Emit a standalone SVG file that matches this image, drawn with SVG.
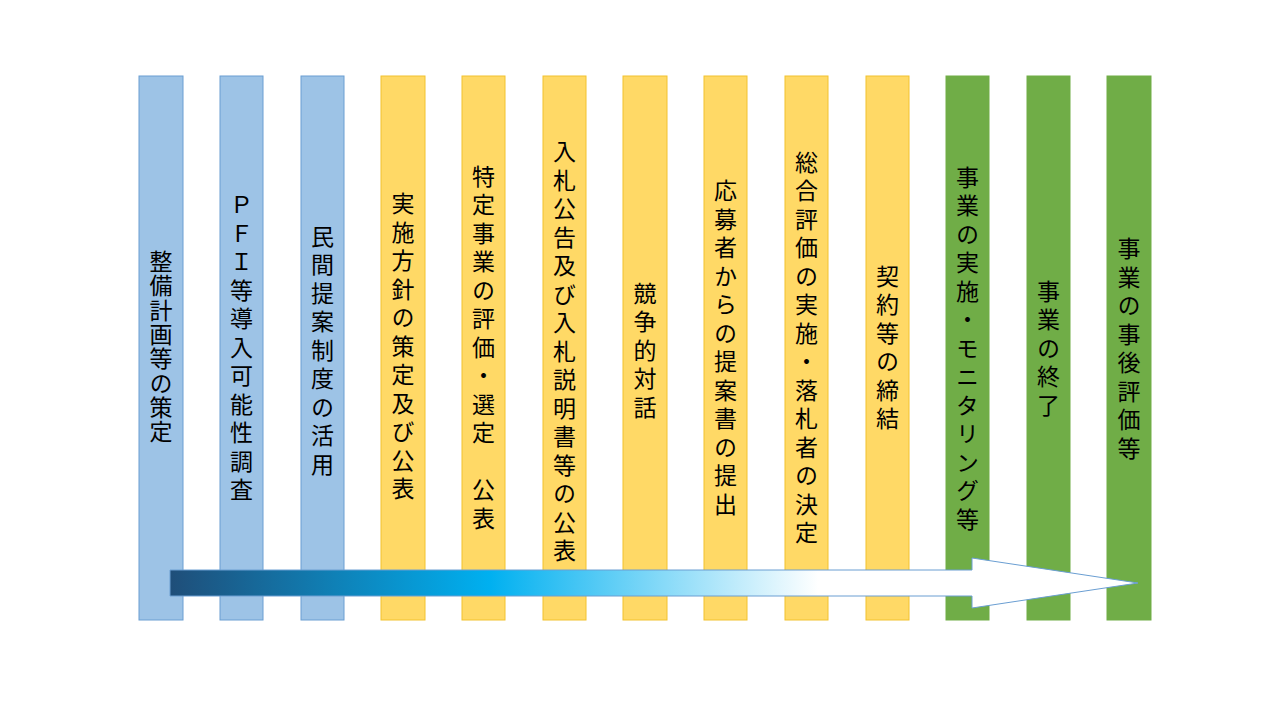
<svg xmlns="http://www.w3.org/2000/svg" width="1280" height="720" viewBox="0 0 1280 720">
<style>
.blue{fill:#9DC3E6;stroke:#6A9ED2;stroke-width:1}
.yellow{fill:#FFD966;stroke:#F2C22E;stroke-width:1}
.green{fill:#70AD47;stroke:#70AD47;stroke-width:1}
.lbl{font-family:"Noto Sans CJK JP","Noto Sans",sans-serif;font-size:23px;fill:#000;writing-mode:vertical-rl;text-anchor:middle;letter-spacing:5.5px}
.tight{letter-spacing:1.3px}
</style>
<defs>
<linearGradient id="arrowGrad" gradientUnits="userSpaceOnUse" x1="170" y1="0" x2="1138" y2="0">
<stop offset="0" stop-color="#1F4E79"/>
<stop offset="0.33" stop-color="#00B0F0"/>
<stop offset="0.67" stop-color="#FFFFFF"/>
<stop offset="1" stop-color="#FFFFFF"/>
</linearGradient>
</defs>
<rect width="1280" height="720" fill="#FFFFFF"/>
<g id="node1"><rect class="blue" x="139" y="76" width="44" height="544"/><text class="lbl tight" x="161" y="347">整備計画等の策定</text></g>
<g id="node2"><rect class="blue" x="220" y="76" width="43" height="544"/><text class="lbl" x="241.5" y="350">ＰＦＩ等導入可能性調査</text></g>
<g id="node3"><rect class="blue" x="301" y="76" width="43" height="544"/><text class="lbl" x="322.5" y="353">民間提案制度の活用</text></g>
<g id="node4"><rect class="yellow" x="381" y="76" width="44" height="544"/><text class="lbl" x="403" y="349">実施方針の策定及び公表</text></g>
<g id="node5"><rect class="yellow" x="462" y="76" width="43" height="544"/><text class="lbl" x="483.5" y="350">特定事業の評価・選定　公表</text></g>
<g id="node6"><rect class="yellow" x="543" y="76" width="43" height="544"/><text class="lbl" x="564.5" y="354">入札公告及び入札説明書等の公表</text></g>
<g id="node7"><rect class="yellow" x="623" y="76" width="44" height="544"/><text class="lbl" x="645" y="353">競争的対話</text></g>
<g id="node8"><rect class="yellow" x="704" y="76" width="43" height="544"/><text class="lbl" x="725.5" y="350">応募者からの提案書の提出</text></g>
<g id="node9"><rect class="yellow" x="785" y="76" width="43" height="544"/><text class="lbl" x="806.5" y="350">総合評価の実施・落札者の決定</text></g>
<g id="node10"><rect class="yellow" x="866" y="76" width="43" height="544"/><text class="lbl" x="887.5" y="350">契約等の締結</text></g>
<g id="node11"><rect class="green" x="946" y="76" width="43" height="544"/><text class="lbl" x="967.5" y="351">事業の実施・モニタリング等</text></g>
<g id="node12"><rect class="green" x="1027" y="76" width="43" height="544"/><text class="lbl" x="1048.5" y="351">事業の終了</text></g>
<g id="node13"><rect class="green" x="1107" y="76" width="44" height="544"/><text class="lbl" x="1129" y="351">事業の事後評価等</text></g>
<g id="connectors">
<polygon points="170,570 972,570 972,558 1138,583 972,608 972,596 170,596" fill="url(#arrowGrad)" stroke="#6A9ED2" stroke-width="1"/>
</g>
</svg>
